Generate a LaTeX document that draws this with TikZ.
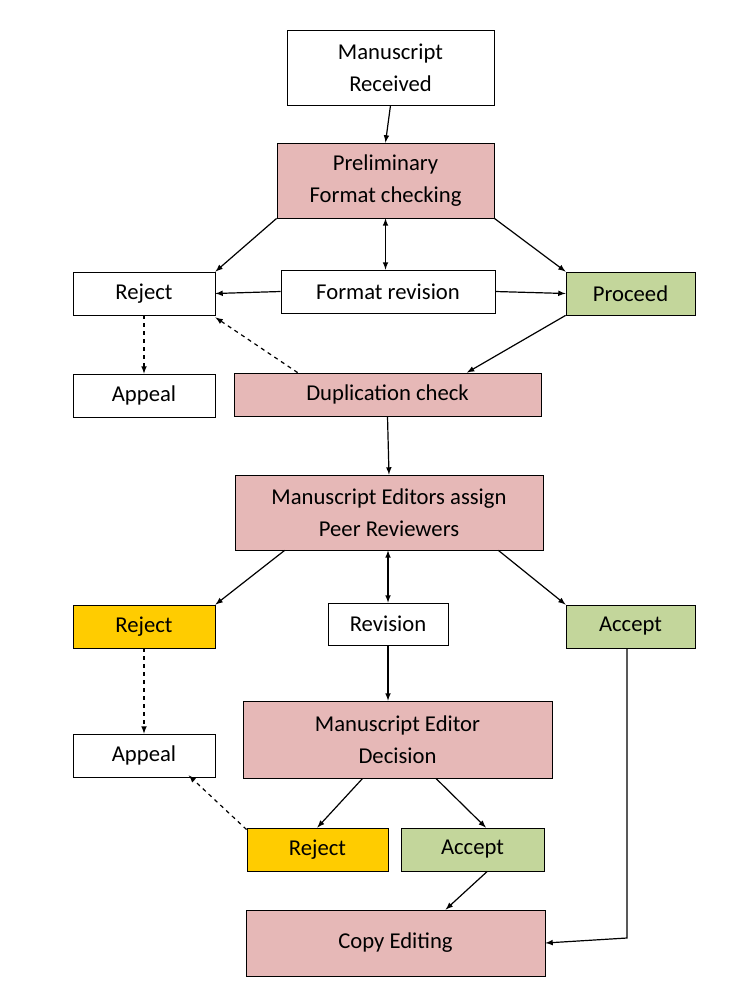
\documentclass[tikz,border=0pt]{standalone}
\usepackage{fontspec}
\setmainfont{Carlito}
\begin{document}
\begin{tikzpicture}[x=0.75pt,y=-0.75pt,
 b/.style={draw,line width=0.6pt,align=center,inner sep=0pt,font=\fontsize{17}{24}\selectfont,text=black},
 w/.style={b,fill=white}, p/.style={b,fill=pinkc}, g/.style={b,fill=greenc}, yl/.style={b,fill=yellowc},
 a/.style={-latex,line width=0.9pt}, d/.style={a,dashed}]
\definecolor{pinkc}{HTML}{E6B8B7}\definecolor{greenc}{HTML}{C3D69B}\definecolor{yellowc}{HTML}{FFCC00}
\useasboundingbox[fill=white] (0,0) rectangle (754,1000);
\newcommand{\bx}[7]{\node[#1,minimum width={(#4-#3)*0.75pt},minimum height={(#6-#5)*0.75pt}] (#2) at ({(#3+#4)/2},{(#5+#6)/2}) {#7};}
\bx{w}{MR}{287}{494}{30}{105}{Manuscript\\Received}
\bx{p}{PFC}{277}{494}{143}{218}{Preliminary\\Format checking}
\bx{w}{R1}{73}{215}{272}{315}{Reject}
\bx{w}{FR}{281}{495}{270}{313}{Format revision}
\bx{g}{PR}{566}{695}{272}{315}{Proceed}
\bx{w}{AP1}{73}{215}{374}{417}{Appeal}
\bx{p}{DC}{234}{541}{373}{416}{Duplication check}
\bx{p}{MEA}{235}{543}{475}{550}{Manuscript Editors assign\\Peer Reviewers}
\bx{yl}{R2}{73}{215}{605}{648}{Reject}
\bx{w}{RV}{328}{448}{603}{645}{Revision}
\bx{g}{AC1}{566}{695}{605}{648}{Accept}
\bx{w}{AP2}{73}{215}{734}{777}{Appeal}
\bx{p}{MED}{243}{552}{701}{778}{Manuscript Editor\\Decision}
\bx{yl}{R3}{247}{388}{828}{871}{Reject}
\bx{g}{AC2}{401}{544}{828}{871}{Accept}
\bx{p}{CE}{246}{545}{910}{976}{Copy Editing}
\draw[a] (MR.south) -- (PFC.north);
\draw[a] (PFC.south west) -- (R1.north east);
\draw[a] (PFC.south east) -- (PR.north west);
\draw[latex-latex,line width=0.9pt] (PFC.south) -- (PFC.south |- FR.north);
\draw[a] (FR.west) -- (R1.east);
\draw[a] (FR.east) -- (PR.west);
\draw[d] (R1.south) -- (AP1.north);
\draw[d] ([xshift=48pt]DC.north west) -- ([yshift=-1.5pt]R1.south east);
\draw[a] (PR.south west) -- ([xshift=175pt]DC.north west);
\draw[a] (DC.south) -- (MEA.north);
\draw[a] ([xshift=37.5pt]MEA.south west) -- (R2.north east);
\draw[latex-latex,line width=0.9pt] (RV.north) -- (RV.north |- MEA.south);
\draw[a] ([xshift=-33.75pt]MEA.south east) -- (AC1.north west);
\draw[d] (R2.south) -- (AP2.north);
\draw[a] (RV.south) -- (RV.south |- MED.north);
\draw[a] ([xshift=90pt]MED.south west) -- ([xshift=53pt]R3.north west);
\draw[a] ([xshift=145pt]MED.south west) -- ([xshift=64pt]AC2.north west);
\draw[d] ([yshift=-1.5pt]R3.north west) -- ([xshift=-20pt,yshift=1.5pt]AP2.south east);
\draw[a] ([xshift=65pt]AC2.south west) -- ([xshift=150pt]CE.north west);
\draw[a] ([xshift=46pt]AC1.south west) -- (627,938) -- (CE.east);
\end{tikzpicture}
\end{document}
